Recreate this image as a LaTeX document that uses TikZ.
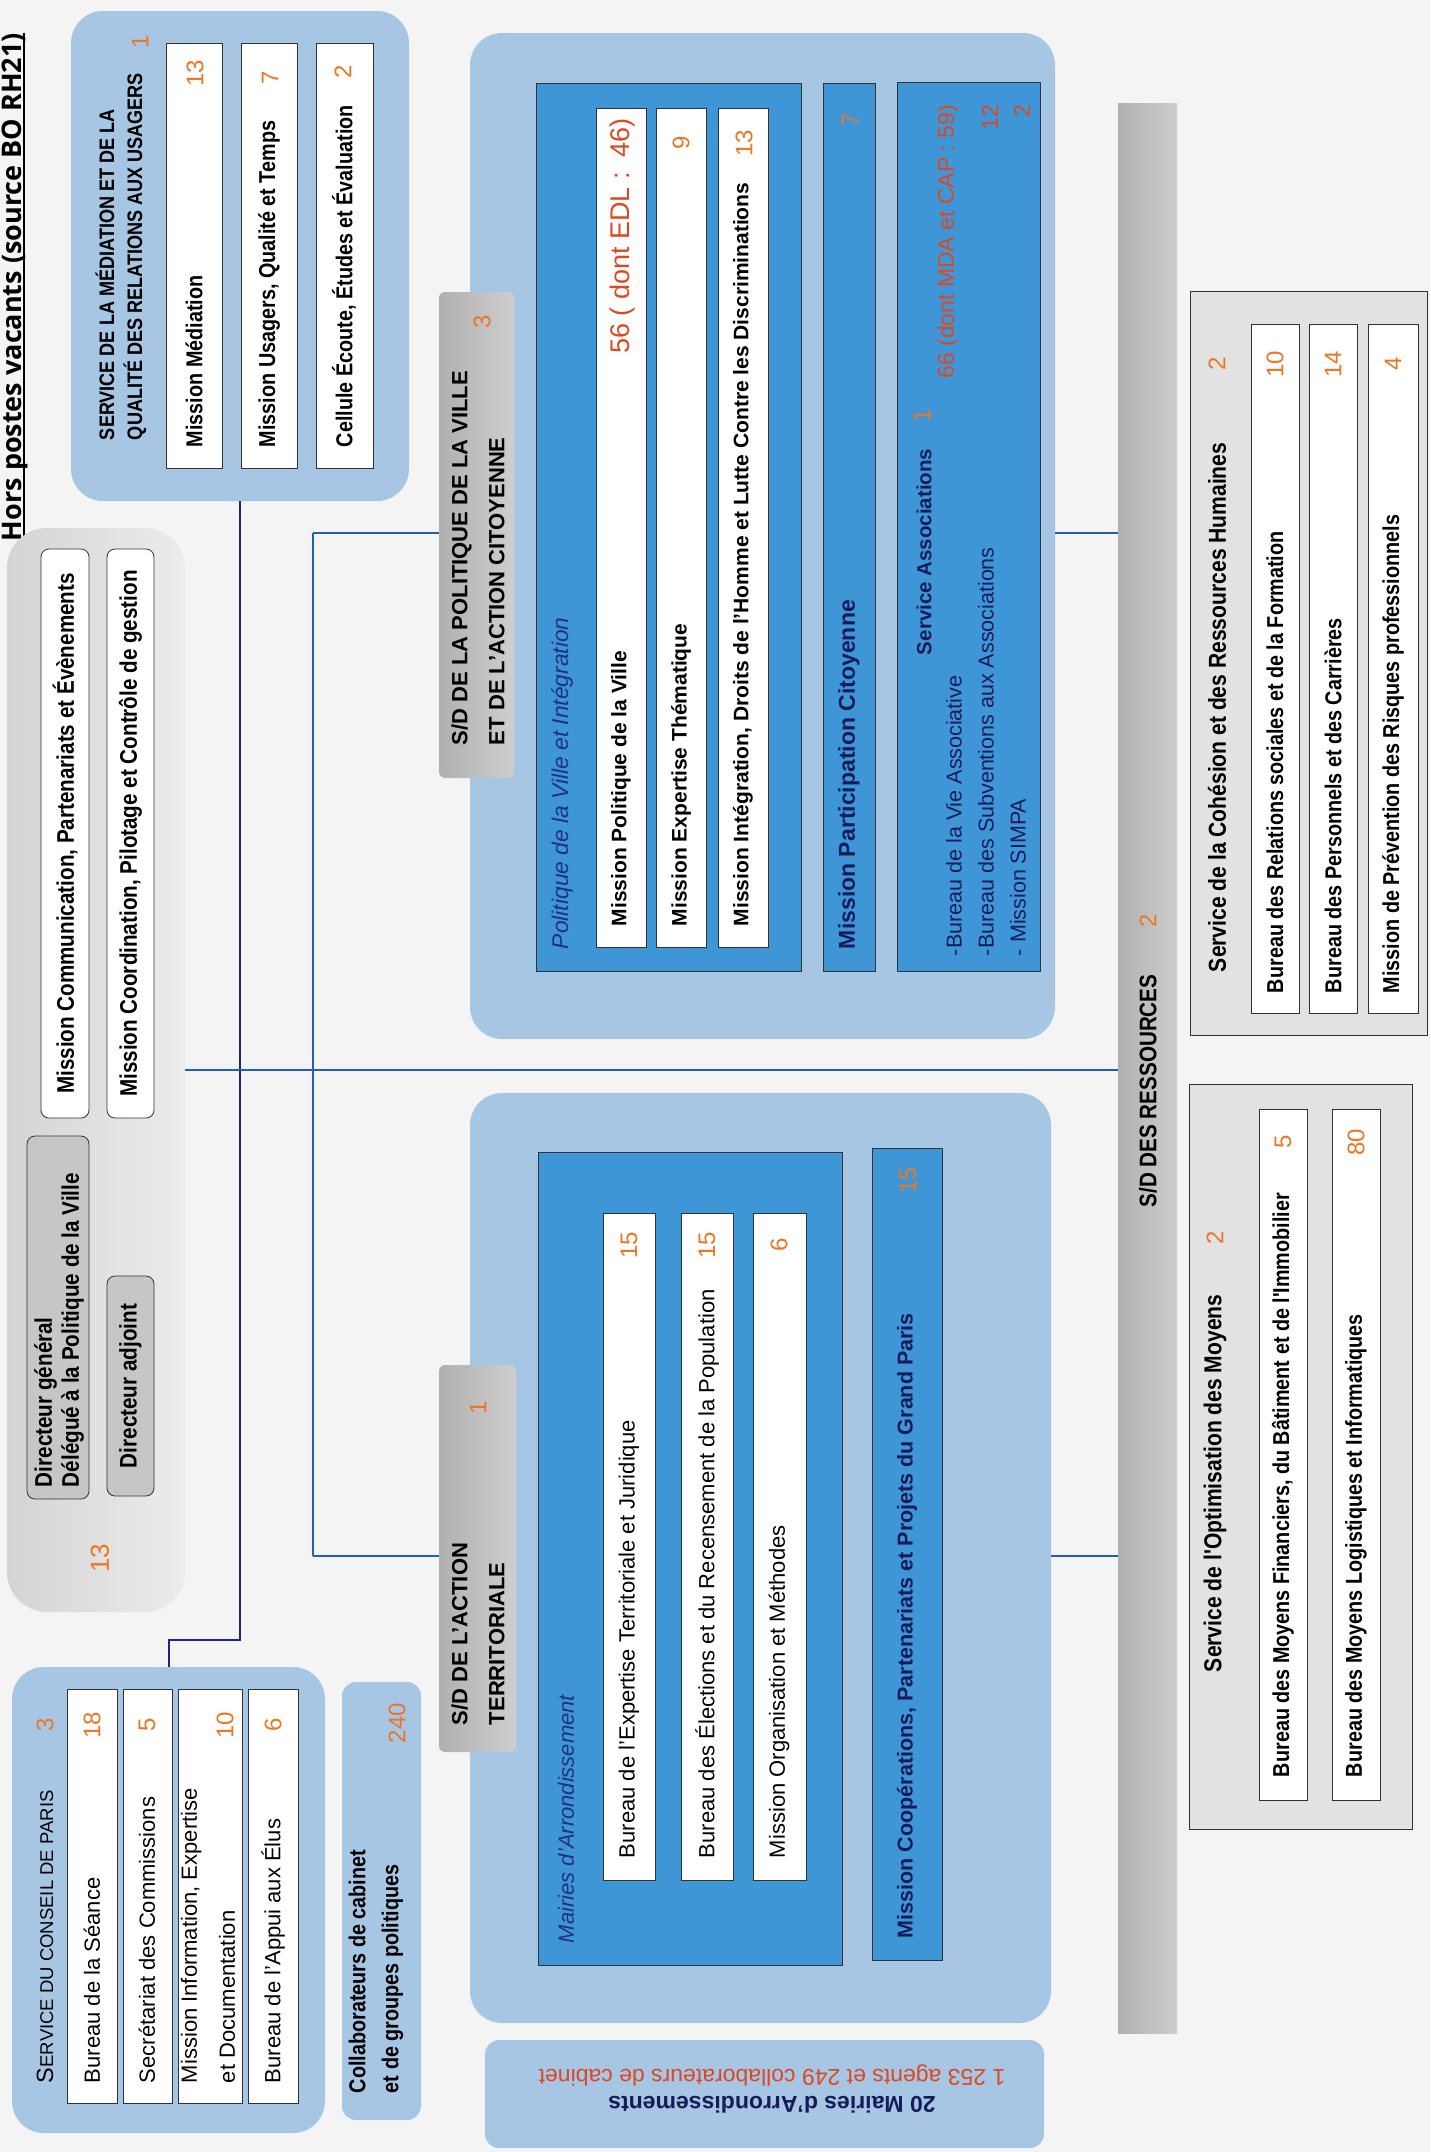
\documentclass[tikz,border=0pt]{standalone}
\usepackage{fontspec}
\setmainfont{Liberation Sans}
\newfontfamily\cnd[FakeStretch=0.86]{Liberation Sans}
\newfontfamily\hdrfont{Open Sans}
\newcommand\fsz[2]{\fontsize{#1}{#2}\selectfont}
\newcommand\bx[6]{\node[#2, minimum width={(#5)-(#3)}, minimum height={(#6)-(#4)}] (#1) at ({((#3)+(#5))/2},{((#4)+(#6))/2}) {};}
\definecolor{bgc}{RGB}{244,244,244}
\definecolor{lblue}{RGB}{166,198,228}
\definecolor{mblue}{RGB}{62,150,214}
\definecolor{navy}{RGB}{22,28,90}
\definecolor{navyi}{RGB}{30,50,130}
\definecolor{orng}{RGB}{238,118,35}
\definecolor{redo}{RGB}{222,72,32}
\definecolor{lnblue}{RGB}{35,95,175}
\definecolor{lnnavy}{RGB}{30,40,120}
\definecolor{bdr}{RGB}{50,50,50}
\definecolor{gbx}{RGB}{198,198,198}
\definecolor{rbx}{RGB}{226,226,226}
\definecolor{tabL}{RGB}{176,176,176}
\definecolor{tabR}{RGB}{206,206,206}
\definecolor{dirL}{RGB}{212,212,212}
\definecolor{dirR}{RGB}{236,236,236}
\begin{document}
\begin{tikzpicture}[x=1pt,y=-1pt,
  every node/.style={inner sep=0pt, outer sep=0pt},
  lbbox/.style={fill=lblue, rounded corners=32pt},
  lbsm/.style={fill=lblue, rounded corners=14pt},
  wbox/.style={fill=white, draw=bdr, line width=0.8pt},
  wrbox/.style={fill=white, draw=bdr, line width=0.8pt, rounded corners=8pt},
  gbox/.style={fill=gbx, draw=bdr, line width=0.8pt, rounded corners=8pt},
  bbox/.style={fill=mblue, draw=bdr, line width=0.8pt},
  rbox/.style={fill=rbx, draw=bdr, line width=0.8pt},
  tabbox/.style={left color=tabL, right color=tabR, rounded corners=6pt},
  resbar/.style={left color=tabL, right color=tabR},
  dirbox/.style={left color=dirL, right color=dirR, rounded corners=40pt},
  rt/.style={rotate=90, anchor=west},
  num/.style={rotate=90, text=orng, font=\fsz{24}{28}},
  blueln/.style={draw=lnblue, line width=2.5pt},
  navyln/.style={draw=lnnavy, line width=2pt}]
\fill[bgc] (0,0) rectangle (1430,2152);
\useasboundingbox (0,0) rectangle (1430,2152);

% header
\node[rotate=90, anchor=base west, font=\hdrfont\bfseries\fsz{27}{32}] (hdr) at (21,541) {Hors postes vacants (source BO RH21)};
\draw[line width=1.5pt] ([xshift=3pt]hdr.base west) -- ([xshift=3pt]hdr.base east);

% ---------- Mediation
\bx{med}{lbbox}{71}{11}{409}{501}
\node[rt, font=\cnd\bfseries\fsz{21}{25}] (medt1) at (105,440) {SERVICE DE LA MÉDIATION ET DE LA};
\node[rt, font=\cnd\bfseries\fsz{21}{25}] (medt2) at (135,440) {QUALITÉ DES RELATIONS AUX USAGERS};
\node[num] (medn) at (140,42) {1};
\bx{med1}{wbox}{166}{43}{222}{468}
\bx{med2}{wbox}{241}{43}{297}{468}
\bx{med3}{wbox}{316}{43}{373}{468}
\node[rt, font=\cnd\bfseries\fsz{23}{27}] (med1t) at (194,447) {Mission Médiation};
\node[rt, font=\cnd\bfseries\fsz{23}{27}] (med2t) at (269,447) {Mission Usagers, Qualité et Temps};
\node[rt, font=\cnd\bfseries\fsz{23}{27}] (med3t) at (344,447) {Cellule Écoute, Études et Évaluation};
\node[num] (med1n) at (195,73) {13};
\node[num] (med2n) at (270,78) {7};
\node[num] (med3n) at (343,72) {2};

% ---------- Director
\bx{dir}{dirbox}{7}{528}{185}{1612}
\bx{dir1}{wrbox}{41}{549}{89}{1118}
\bx{dir2}{wrbox}{107}{549}{154}{1118}
\node[rotate=90, font=\cnd\bfseries\fsz{24}{28}] (dir1t) at (dir1) {Mission Communication, Partenariats et Évènements};
\node[rotate=90, font=\cnd\bfseries\fsz{24}{28}] (dir2t) at (dir2) {Mission Coordination, Pilotage et Contrôle de gestion};
\bx{dg}{gbox}{27}{1136}{89}{1499}
\node[rt, align=left, font=\cnd\bfseries\fsz{24}{27}] (dgt) at (59,1487) {Directeur général\\Délégué à la Politique de la Ville};
\bx{da}{gbox}{107}{1276}{154}{1496}
\node[rotate=90, font=\cnd\bfseries\fsz{24}{28}] (dat) at (da) {Directeur adjoint};
\node[num, font=\fsz{26}{30}] (dirn) at (100,1558) {13};

% ---------- Conseil de Paris
\bx{cons}{lbbox}{12}{1667}{325}{2133}
\node[rt, font=\fsz{18.5}{22}] (const) at (45,2083) {{\fsz{23.5}{27}S}ERVICE DU CONSEIL DE PARIS};
\node[num] (consn) at (45,1725) {3};
\bx{cons1}{wbox}{67}{1689}{117}{2103}
\bx{cons2}{wbox}{123}{1689}{172}{2103}
\bx{cons3}{wbox}{178}{1689}{242}{2103}
\bx{cons4}{wbox}{248}{1689}{298}{2103}
\node[rt, font=\fsz{22}{27}] (cons1t) at (92,2083) {Bureau de la Séance};
\node[rt, font=\fsz{22}{27}] (cons2t) at (147,2083) {Secrétariat des Commissions};
\node[rt, align=left, font=\fsz{22}{38}] (cons3t) at (208,2083) {Mission Information, Expertise\\et Documentation};
\node[rt, font=\fsz{22}{27}] (cons4t) at (273,2083) {Bureau de l'Appui aux Élus};
\node[num] (cons1n) at (92,1725) {18};
\node[num] (cons2n) at (147,1725) {5};
\node[num] (cons3n) at (225,1725) {10};
\node[num] (cons4n) at (273,1725) {6};

% ---------- Collaborateurs
\bx{col}{lbsm}{342}{1682}{421}{2120}
\node[rt, align=left, font=\cnd\bfseries\fsz{23}{33}] (colt) at (376,2093) {Collaborateurs de cabinet\\et de groupes politiques};
\node[num] (coln) at (397,1723) {240};

% ---------- 20 Mairies
\bx{mai}{lbsm}{485}{2040}{1044}{2148}
\node[rotate=180, font=\bfseries\fsz{23}{27}, text=navy] (mait1) at (772,2105) {20 Mairies d'Arrondissements};
\node[rotate=180, font=\fsz{23}{27}, text=redo] (mait2) at (772,2075) {1 253 agents et 249 collaborateurs de cabinet};

% ---------- S/D Action territoriale
\bx{sda}{lbbox}{470}{1093}{1051}{2023}
\bx{taba}{tabbox}{439}{1365}{516}{1752}
\node[rt, align=left, font=\bfseries\fsz{22}{37}] (tabat) at (478,1725) {S/D DE L’ACTION\\TERRITORIALE};
\node[num] (taban) at (478,1408) {1};
\bx{mairies}{bbox}{538}{1152}{842}{1965}
\node[rt, font=\itshape\fsz{22}{26}, text=navyi] (mairt) at (566,1943) {Mairies d’Arrondissement};
\bx{ma1}{wbox}{603}{1213}{655}{1880}
\bx{ma2}{wbox}{681}{1213}{733}{1880}
\bx{ma3}{wbox}{753}{1213}{806}{1880}
\node[rt, font=\fsz{22}{26}] (ma1t) at (629,1858) {Bureau de l'Expertise Territoriale et Juridique};
\node[rt, font=\fsz{22}{26}] (ma2t) at (707,1858) {Bureau des Élections et du Recensement de la Population};
\node[rt, font=\fsz{22}{26}] (ma3t) at (779,1858) {Mission Organisation et Méthodes};
\node[num] (ma1n) at (629,1245) {15};
\node[num] (ma2n) at (707,1245) {15};
\node[num] (ma3n) at (779,1245) {6};
\bx{coop}{bbox}{872}{1148}{942}{1960}
\node[rt, font=\bfseries\fsz{21.5}{26}, text=navy] (coopt) at (907,1938) {Mission Coopérations, Partenariats et Projets du Grand Paris};
\node[num] (coopn) at (908,1180) {15};

% ---------- S/D Politique de la ville
\bx{sdp}{lbbox}{470}{33}{1055}{1039}
\bx{tabp}{tabbox}{439}{292}{514}{778}
\node[rt, align=left, font=\bfseries\fsz{22}{37}] (tabpt) at (478,745) {S/D DE LA POLITIQUE DE LA VILLE\\ET DE L’ACTION CITOYENNE};
\node[num] (tabpn) at (482,322) {3};
\bx{pvi}{bbox}{536}{83}{801}{971}
\node[rt, font=\itshape\fsz{22.8}{26}, text=navyi] (pvit) at (562,949) {Politique de la Ville et Intégration};
\bx{pv1}{wbox}{596}{108}{646}{947}
\bx{pv2}{wbox}{656}{108}{706}{947}
\bx{pv3}{wbox}{718}{108}{768}{947}
\node[rt, font=\bfseries\fsz{21}{25}] (pv1t) at (621,926) {Mission Politique de la Ville};
\node[rt, font=\bfseries\fsz{21}{25}] (pv2t) at (681,926) {Mission Expertise Thématique};
\node[rt, font=\bfseries\fsz{21}{25}] (pv3t) at (743,926) {Mission Intégration, Droits de l'Homme et Lutte Contre les Discriminations};
\node[rotate=90, anchor=east, font=\fsz{27}{31}, text=redo] (pv1n) at (623,118) {56 ( dont EDL :\ \ 46)};
\node[num] (pv2n) at (681,143) {9};
\node[num] (pv3n) at (744,143) {13};
\bx{part}{bbox}{823}{83}{875}{971}
\node[rt, font=\bfseries\fsz{23}{27}, text=navy] (partt) at (849,949) {Mission Participation Citoyenne};
\node[num] (partn) at (850,120) {7};
\bx{assoc}{bbox}{897}{82}{1040}{971}
\node[rt, font=\bfseries\fsz{20.5}{25}, text=navy] (assoct) at (924,655) {Service Associations};
\node[num] (assocn) at (922,416) {1};
\node[rotate=90, anchor=east, font=\fsz{23}{27}, text=redo] (assocn2) at (948,105) {66 (dont MDA et CAP : 59)};
\node[rotate=90, anchor=east, font=\fsz{23}{27}, text=redo] (assocn3) at (990,105) {12};
\node[rotate=90, anchor=east, font=\fsz{23}{27}, text=redo] (assocn4) at (1022,105) {2};
\node[rt, align=left, font=\fsz{21.5}{32}, text=navy] (assocl) at (986,956) {-Bureau de la Vie Associative\\-Bureau des Subventions aux Associations\\- Mission SIMPA};

% ---------- S/D Ressources
\bx{res}{resbar}{1118}{103}{1177}{2033}
\node[rotate=90, font=\cnd\bfseries\fsz{24}{28}] (rest) at (1148,1091) {S/D DES RESSOURCES};
\node[num] (resn) at (1148,921) {2};
\bx{coh}{rbox}{1190}{291}{1427}{1035}
\node[rt, font=\cnd\bfseries\fsz{24.5}{28}] (coht) at (1217,972) {Service de la Cohésion et des Ressources Humaines};
\node[num] (cohn) at (1217,364) {2};
\bx{coh1}{wbox}{1251}{324}{1299}{1013}
\bx{coh2}{wbox}{1309}{324}{1357}{1013}
\bx{coh3}{wbox}{1368}{324}{1418}{1013}
\node[rt, font=\cnd\bfseries\fsz{23}{27}] (coh1t) at (1275,993) {Bureau des Relations sociales et de la Formation};
\node[rt, font=\cnd\bfseries\fsz{23}{27}] (coh2t) at (1333,993) {Bureau des Personnels et des Carrières};
\node[rt, font=\cnd\bfseries\fsz{23}{27}] (coh3t) at (1393,993) {Mission de Prévention des Risques professionnels};
\node[num] (coh1n) at (1275,364) {10};
\node[num] (coh2n) at (1333,364) {14};
\node[num] (coh3n) at (1393,364) {4};
\bx{opt}{rbox}{1189}{1084}{1412}{1829}
\node[rt, font=\cnd\bfseries\fsz{24.5}{28}] (optt) at (1215,1672) {Service de l'Optimisation des Moyens};
\node[num] (optn) at (1215,1238) {2};
\bx{opt1}{wbox}{1259}{1109}{1307}{1800}
\bx{opt2}{wbox}{1332}{1109}{1380}{1800}
\node[rt, font=\cnd\bfseries\fsz{23}{27}] (opt1t) at (1283,1777) {Bureau des Moyens Financiers, du Bâtiment et de l'Immobilier};
\node[rt, font=\cnd\bfseries\fsz{23}{27}] (opt2t) at (1356,1777) {Bureau des Moyens Logistiques et Informatiques};
\node[num] (opt1n) at (1283,1142) {5};
\node[num] (opt2n) at (1356,1142) {80};

% ---------- connectors
\coordinate (j1) at (240,1640);
\draw[navyln] (med.south) -- (j1) -| (cons.north);
\draw[blueln] (dir.east) -- (dir.east -| res.west);
\coordinate (b1) at (313,533);
\coordinate (b2) at (313,1556);
\draw[blueln] (b1) -- (b2);
\draw[blueln] (b1) -- (b1 -| tabp.west);
\draw[blueln] (b1 -| sdp.east) -- (b1 -| res.west);
\draw[blueln] (b2) -- (b2 -| taba.west);
\draw[blueln] (b2 -| sda.east) -- (b2 -| res.west);
\end{tikzpicture}
\end{document}
